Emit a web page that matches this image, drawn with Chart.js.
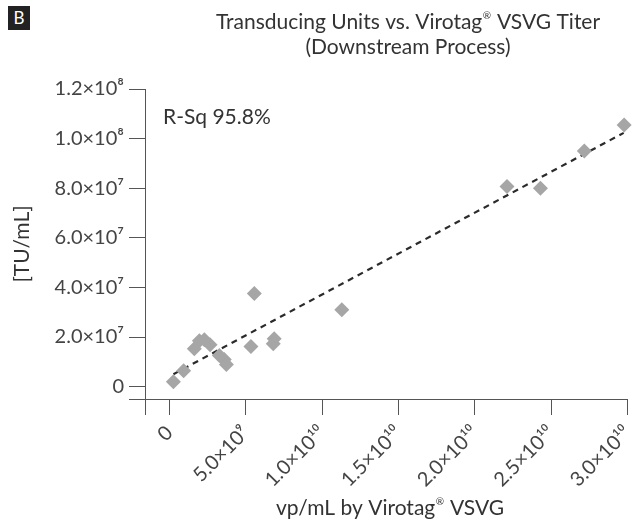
<!DOCTYPE html>
<html>
<head>
<meta charset="utf-8">
<script src="https://cdn.jsdelivr.net/npm/chart.js@4.4.1/dist/chart.umd.min.js"></script>
<style>
  html, body { margin: 0; padding: 0; background: #fff; }
  #wrap { position: relative; width: 635px; height: 526px; }
  #panel {
    position: absolute; left: 8px; top: 6px; width: 22px; height: 24px;
    background: #222; color: #fff; font: 17px Lato, 'Noto Sans', sans-serif;
    text-align: center; line-height: 24px;
  }
</style>
</head>
<body>
<div id="wrap">
  <canvas id="myScatter" width="635" height="526"></canvas>
  <div id="panel">B</div>
</div>
<script>
const Chart = window.Chart;

// vp/mL by Virotag VSVG
const virotagTiter = [
  2.6e8, 9.3e8, 1.63e9, 1.96e9, 2.29e9, 2.66e9, 3.27e9, 3.59e9, 3.73e9,
  5.34e9, 5.56e9, 6.86e9, 6.80e9, 1.129e10, 2.211e10, 2.43e10, 2.717e10, 2.978e10
];
// TU/mL
const transducingUnits = [
  2.0e6, 6.4e6, 1.53e7, 1.85e7, 1.89e7, 1.69e7, 1.25e7, 1.09e7, 8.9e6,
  1.62e7, 3.75e7, 1.93e7, 1.73e7, 3.10e7, 8.07e7, 8.0e7, 9.50e7, 1.055e8
];
// fitted line at both ends
const trendX = [2.6e8, 2.975e10];
const trendY = [5.0e6, 1.023e8];

const xTickValues = [0, 5e9, 1e10, 1.5e10, 2e10, 2.5e10, 3e10];
const xTickLabels = ['0', '5.0×10⁹', '1.0×10¹⁰', '1.5×10¹⁰', '2.0×10¹⁰', '2.5×10¹⁰', '3.0×10¹⁰'];
const yTickValues = [0, 2e7, 4e7, 6e7, 8e7, 1e8, 1.2e8];
const yTickLabels = ['0', '2.0×10⁷', '4.0×10⁷', '6.0×10⁷', '8.0×10⁷', '1.0×10⁸', '1.2×10⁸'];

const titleLines = ['Transducing Units vs. Virotag® VSVG Titer', '(Downstream Process)'];
const xTitle = 'vp/mL by Virotag® VSVG';
const yTitle = '[TU/mL]';
const rsqText = 'R-Sq 95.8%';

const fontFamily = "Lato, 'Noto Sans', sans-serif";
const axisColor = '#555';
const textColor = '#333';

function labelFor(values, labels, v) {
  const i = values.indexOf(v);
  return i < 0 ? '' : labels[i];
}

// centred text with the ® sign set small and raised, as in the original
function drawCentred(ctx, text, cx, cy) {
  const big = '21px ' + fontFamily;
  const small = '10px ' + fontFamily;
  const parts = text.split('®');
  ctx.font = small;
  const regW = ctx.measureText('®').width + 1;
  ctx.font = big;
  let total = 0;
  parts.forEach((p, i) => {
    total += ctx.measureText(p).width;
    if (i < parts.length - 1) total += regW;
  });
  let x = cx - total / 2;
  ctx.textAlign = 'left';
  parts.forEach((p, i) => {
    ctx.font = big;
    ctx.fillText(p, x, cy);
    x += ctx.measureText(p).width;
    if (i < parts.length - 1) {
      ctx.font = small;
      ctx.fillText('®', x + 0.5, cy - 6);
      x += regW;
    }
  });
}

// titles and the R-Sq note are drawn by hand so they sit where the original puts them
const textPlugin = {
  id: 'textPlugin',
  afterDraw(chart) {
    const ctx = chart.ctx;
    const area = chart.chartArea;
    ctx.save();
    ctx.fillStyle = textColor;
    ctx.textBaseline = 'middle';
    drawCentred(ctx, titleLines[0], 408, 22);
    drawCentred(ctx, titleLines[1], 408, 47);
    drawCentred(ctx, xTitle, 390, 508);
    ctx.textAlign = 'left';
    ctx.font = '21px ' + fontFamily;
    ctx.fillText(rsqText, area.left + 18, 117);
    ctx.translate(22, (area.top + area.bottom) / 2);
    ctx.rotate(-Math.PI / 2);
    ctx.textAlign = 'center';
    ctx.fillText(yTitle, 0, 0);
    ctx.restore();
  }
};

const points = virotagTiter.map((x, i) => ({ x: x, y: transducingUnits[i] }));
const trend = trendX.map((x, i) => ({ x: x, y: trendY[i] }));

new Chart(
  document.getElementById('myScatter').getContext('2d'), {
    type: 'scatter',
    data: {
      datasets: [
        {
          label: 'fit',
          data: trend,
          showLine: true,
          borderColor: '#2b2b2b',
          borderWidth: 2.2,
          borderDash: [6, 5],
          pointRadius: 0,
          clip: false,
          order: 1
        },
        {
          label: 'samples',
          data: points,
          pointStyle: 'rectRot',
          pointRadius: 7.5,
          pointHoverRadius: 7.5,
          backgroundColor: '#a6a6a6',
          borderColor: '#a6a6a6',
          borderWidth: 0,
          clip: false,
          order: 0
        }
      ]
    },
    options: {
      responsive: false,
      animation: false,
      layout: { padding: { top: 89, right: 6, left: 0, bottom: 0 } },
      plugins: {
        legend: { display: false },
        tooltip: { enabled: false }
      },
      scales: {
        x: {
          type: 'linear',
          min: -1.6e9,
          max: 3e10,
          afterBuildTicks: scale => {
            scale.ticks = [scale.min].concat(xTickValues).map(v => ({ value: v }));
          },
          afterFit: scale => {
            scale.height = 526 - 399;
            scale.paddingLeft = 0;
            scale.paddingRight = 0;
          },
          ticks: {
            autoSkip: false,
            minRotation: 45,
            maxRotation: 45,
            padding: 6,
            color: '#444',
            font: { family: fontFamily, size: 20 },
            callback: v => labelFor(xTickValues, xTickLabels, v)
          },
          grid: { drawOnChartArea: false, drawTicks: true, tickLength: 16, color: axisColor },
          border: { color: axisColor, width: 1 }
        },
        y: {
          type: 'linear',
          min: -5e6,
          max: 1.2e8,
          afterBuildTicks: scale => {
            scale.ticks = [scale.min].concat(yTickValues).map(v => ({ value: v }));
          },
          afterFit: scale => {
            scale.width = 145;
            scale.paddingTop = 0;
            scale.paddingBottom = 0;
          },
          ticks: {
            autoSkip: false,
            padding: 5,
            color: '#444',
            font: { family: fontFamily, size: 20 },
            callback: v => labelFor(yTickValues, yTickLabels, v)
          },
          grid: { drawOnChartArea: false, drawTicks: true, tickLength: 16, color: axisColor },
          border: { color: axisColor, width: 1 }
        }
      }
    },
    plugins: [textPlugin]
  }
);
</script>
</body>
</html>
